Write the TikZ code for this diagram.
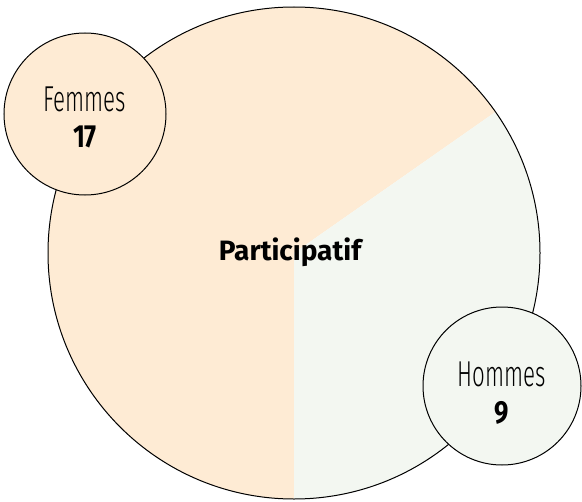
\documentclass[tikz,border=0pt]{standalone}
\usepackage{fontspec}
\setmainfont{Fira Sans}
\newfontfamily\thinfont[FakeStretch=0.62]{Fira Sans Light}
\newfontfamily\heavyfont{Fira Sans Bold}
\newfontfamily\numfont[FakeStretch=0.8]{Fira Sans Bold}
\usetikzlibrary{positioning}
\definecolor{femmescol}{RGB}{254,235,212}
\definecolor{hommescol}{RGB}{243,247,241}
\tikzset{bubble/.style = {circle, draw=black, line width=0.75pt, inner sep=0pt,
                          align=center, text=black},
         label/.style = {font=\thinfont\fontsize{27}{29}\selectfont},
         count/.style = {font=\numfont\fontsize{24}{26}\selectfont}}

\begin{document}
\begin{tikzpicture}[x=0.75pt, y=0.75pt]
    \useasboundingbox (0, 0) rectangle (582, 501);
    \coordinate (centre) at (294, 248);
    % pie
    \fill [femmescol] (centre) -- ++(35:246) arc [start angle=35, end angle=270, radius=246] -- cycle;
    \fill [hommescol] (centre) -- ++(-90:246) arc [start angle=-90, end angle=35, radius=246] -- cycle;
    \draw [line width=0.75pt] (centre) circle [radius=246];
    \node [font=\heavyfont\fontsize{21}{23}\selectfont] (titre) at (290, 249) {Participatif};
    % bubbles
    \node [bubble, fill=femmescol, minimum size=121.5pt] (femmes) at (85, 387) {};
    \node [label] (femmeslbl) at (85, 402) {Femmes};
    \node [count] (femmesnb) at (85, 364) {17};
    \node [bubble, fill=hommescol, minimum size=118.5pt] (hommes) at (502, 115) {};
    \node [label] (hommeslbl) at (502, 127) {Hommes};
    \node [count] (hommesnb) at (502, 88) {9};
\end{tikzpicture}
\end{document}
